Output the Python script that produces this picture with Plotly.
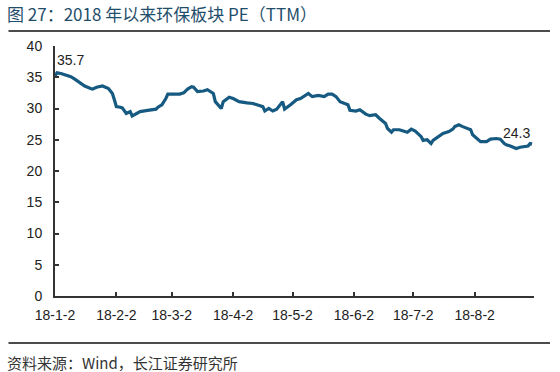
import plotly.graph_objects as go

dates = ["2018-01-02","2018-01-03","2018-01-05","2018-01-07","2018-01-10","2018-01-12","2018-01-15","2018-01-17",
         "2018-01-20","2018-01-21","2018-01-23","2018-01-25","2018-01-26","2018-01-29","2018-01-31",
         "2018-02-01","2018-02-02","2018-02-04","2018-02-05","2018-02-07","2018-02-08","2018-02-09","2018-02-10",
         "2018-02-12","2018-02-14","2018-02-17","2018-02-19","2018-02-22","2018-02-23","2018-02-25","2018-02-27","2018-02-28",
         "2018-03-01","2018-03-04","2018-03-06","2018-03-08","2018-03-10","2018-03-12","2018-03-13","2018-03-15",
         "2018-03-18","2018-03-20","2018-03-23","2018-03-24","2018-03-27","2018-03-28","2018-03-31",
         "2018-04-02","2018-04-05","2018-04-09","2018-04-12","2018-04-14","2018-04-17","2018-04-18","2018-04-20",
         "2018-04-22","2018-04-24","2018-04-27","2018-04-28",
         "2018-05-01","2018-05-04","2018-05-06","2018-05-10","2018-05-12","2018-05-15","2018-05-18","2018-05-20",
         "2018-05-22","2018-05-24","2018-05-26","2018-05-30","2018-05-31",
         "2018-06-03","2018-06-05","2018-06-08","2018-06-10","2018-06-13","2018-06-15","2018-06-18","2018-06-19",
         "2018-06-21","2018-06-22","2018-06-25","2018-06-27","2018-06-29",
         "2018-07-01","2018-07-03","2018-07-06","2018-07-07","2018-07-09","2018-07-11","2018-07-12","2018-07-15",
         "2018-07-17","2018-07-20","2018-07-22","2018-07-23","2018-07-25","2018-07-27","2018-07-30","2018-07-31",
         "2018-08-01","2018-08-04","2018-08-05","2018-08-08","2018-08-10","2018-08-13","2018-08-15","2018-08-17",
         "2018-08-18","2018-08-20","2018-08-23","2018-08-25","2018-08-28","2018-08-29","2018-08-30","2018-08-31"]

pe = [35.2,35.7,35.6,35.4,35.1,34.7,34.0,33.6,
      33.2,33.1,33.4,33.6,33.6,33.2,32.4,
      31.4,30.3,30.2,30.1,29.2,29.3,29.5,28.8,
      29.2,29.5,29.65,29.8,29.9,30.2,30.6,31.6,32.3,
      32.3,32.3,32.3,32.5,33.1,33.5,33.4,32.7,
      32.8,33.0,32.4,31.1,30.0,31.1,31.8,
      31.6,31.1,30.9,30.8,30.6,30.3,29.6,30.0,
      29.6,29.9,31.1,29.9,
      30.6,31.4,31.6,32.4,31.9,32.1,31.9,32.3,
      32.3,31.9,31.1,30.6,29.7,
      29.6,29.8,29.1,28.85,29.0,28.4,27.6,26.8,
      26.2,26.6,26.6,26.4,26.2,
      26.7,26.4,25.5,24.9,25.0,24.4,24.9,25.5,
      26.0,26.3,26.7,27.1,27.4,27.1,26.8,26.6,
      25.8,25.0,24.7,24.7,25.1,25.2,25.1,24.4,
      24.2,24.0,23.6,23.8,23.9,24.0,24.4,24.3]

tick_dates = ["2018-01-02","2018-02-02","2018-03-02","2018-04-02","2018-05-02","2018-06-02","2018-07-02","2018-08-02"]
tick_labels = ["18-1-2","18-2-2","18-3-2","18-4-2","18-5-2","18-6-2","18-7-2","18-8-2"]
y_ticks = [0,5,10,15,20,25,30,35,40]

title = "图 27：2018 年以来环保板块 PE（TTM）"
source = "资料来源：Wind，长江证券研究所"

line_color = "#165a82"
num_font = dict(family="Liberation Sans, Arial", size=14, color="#222222")

W, H = 560, 372
L, R, T, B = 55, 26, 46, 76
pw, ph = W - L - R, H - T - B

def px(xp):
    return (xp - L) / pw

def py(yp):
    return (H - B - yp) / ph

fig = go.Figure()
fig.add_trace(go.Scatter(x=dates, y=pe, mode="lines",
                         line=dict(color=line_color, width=3.2), hoverinfo="skip"))

fig.add_annotation(x=dates[0], y=pe[1], text=f"{pe[1]:.1f}", showarrow=False,
                   xanchor="left", yanchor="bottom", yshift=3, xshift=0, font=num_font)
fig.add_annotation(x=dates[-1], y=pe[-1], text=f"{pe[-1]:.1f}", showarrow=False,
                   xanchor="right", yanchor="bottom", yshift=1, xshift=0, font=num_font)

fig.add_annotation(xref="paper", yref="paper", x=px(5), y=py(13), text=title,
                   showarrow=False, xanchor="left", yanchor="middle",
                   font=dict(family="Noto Sans CJK SC", size=17, color="#1f4e6b"))
fig.add_annotation(xref="paper", yref="paper", x=px(5), y=py(362), text=source,
                   showarrow=False, xanchor="left", yanchor="middle",
                   font=dict(family="Noto Sans CJK SC", size=15, color="#333333"))

# rules under title and above source (drawn as arrowless annotation lines)
for yline in (31, 343):
    fig.add_annotation(xref="paper", yref="paper", x=px(550), y=py(yline), text="",
                       showarrow=True, arrowhead=0, arrowwidth=1.3, arrowcolor="#111111",
                       ax=-543, ay=0, axref="pixel", ayref="pixel", standoff=0, startstandoff=0)

fig.update_xaxes(type="date", range=["2018-01-02", "2018-09-01"],
                 tickvals=tick_dates, ticktext=tick_labels,
                 ticks="inside", ticklen=4, tickcolor="#333333", tickwidth=1.5,
                 showline=True, linecolor="#333333", linewidth=2,
                 showgrid=False, zeroline=False, tickfont=num_font, ticklabelstandoff=5)
fig.update_yaxes(range=[0, 40], tickvals=y_ticks,
                 ticks="inside", ticklen=4, tickcolor="#333333", tickwidth=1.5,
                 showline=True, linecolor="#333333", linewidth=2,
                 showgrid=False, zeroline=False, tickfont=num_font, ticklabelstandoff=8)

fig.update_layout(width=W, height=H, margin=dict(l=L, r=R, t=T, b=B),
                  paper_bgcolor="white", plot_bgcolor="white", showlegend=False)

fig.write_html("out.html", config={"displayModeBar": False},
               post_script="document.body.style.margin='0';document.body.style.padding='0';")
